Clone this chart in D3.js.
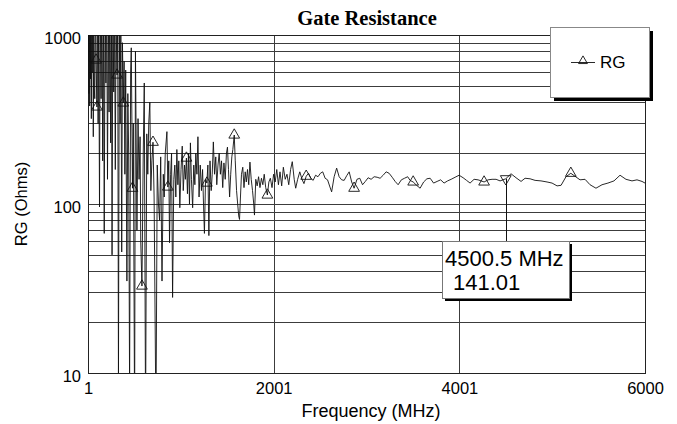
<!DOCTYPE html>
<meta charset="utf-8">
<script src="https://d3js.org/d3.v7.min.js"></script>
<style>
body { margin: 0; background: #fff; }
svg { display: block; }
.grid line { stroke: #3c3c3c; stroke-width: 1px; shape-rendering: crispEdges; }
.axis text { font-family: "Liberation Sans", Arial, sans-serif; font-size: 16.5px; fill: #000; }
.axis path, .axis line { display: none; }
.label { font-family: "Liberation Sans", Arial, sans-serif; font-size: 16px; fill: #000; }
.title { font-family: "Liberation Serif", "Times New Roman", serif; font-size: 20.5px; font-weight: bold; }
</style>
<body>
<script>

// measured sweep, frequency in MHz
var freqMHz = [1, 4, 7, 11, 15, 19, 24, 28, 32, 37, 42, 47, 53, 58, 63, 69, 74, 81, 88, 97,
  103, 110, 116, 125, 133, 142, 151, 159, 168, 176, 185, 194, 202, 211, 220, 228, 237, 245, 254, 260,
  269, 278, 286, 295, 303, 314, 321, 329, 338, 347, 355, 364, 372, 381, 390, 398, 407, 420, 430, 439,
  449, 460, 467, 480, 489, 503, 512, 528, 540, 551, 562, 569, 582, 596, 607, 621, 634, 645, 655, 667,
  678, 689, 701, 713, 733, 747, 760, 772, 784, 798, 812, 822, 833, 851, 861, 871, 879, 891, 901, 912,
  925, 936, 947, 958, 969, 979, 990, 1003, 1016, 1027, 1040, 1050, 1061, 1072, 1083, 1094, 1104, 1115, 1128, 1140,
  1152, 1162, 1174, 1185, 1197, 1210, 1223, 1235, 1245, 1255, 1267, 1281, 1292, 1303, 1315, 1328, 1339, 1351, 1364, 1377,
  1388, 1401, 1414, 1427, 1439, 1452, 1465, 1479, 1492, 1503, 1514, 1526, 1538, 1550, 1561, 1576, 1587, 1601, 1613, 1624,
  1633, 1643, 1654, 1668, 1681, 1694, 1706, 1719, 1732, 1745, 1759, 1773, 1786, 1794, 1808, 1823, 1838, 1853, 1869, 1884,
  1899, 1915, 1933, 1949, 1965, 1983, 2000, 2017, 2034, 2052, 2069, 2087, 2105, 2125, 2144, 2163, 2183, 2201, 2222, 2238,
  2259, 2282, 2306, 2327, 2351, 2376, 2400, 2426, 2452, 2478, 2504, 2529, 2555, 2581, 2607, 2625, 2652, 2679, 2706, 2733,
  2760, 2787, 2814, 2841, 2867, 2898, 2928, 2958, 2988, 3018, 3050, 3083, 3115, 3147, 3180, 3212, 3244, 3277, 3309, 3341,
  3376, 3410, 3444, 3470, 3503, 3540, 3578, 3616, 3651, 3686, 3723, 3761, 3799, 3836, 3874, 3912, 3955, 3998, 4041, 4078,
  4116, 4159, 4202, 4235, 4267, 4310, 4353, 4396, 4439, 4500.5, 4557, 4611, 4665, 4708, 4762, 4816, 4880, 4945, 4999, 5053,
  5096, 5149, 5201, 5246, 5300, 5354, 5408, 5472, 5537, 5601, 5666, 5731, 5795, 5860, 5914, 5968, 6000];

// gate resistance, ohms
var rgOhms = [700, 800, 1500, 450, 2000, 380, 1200, 550, 1800, 320, 1300, 600, 2500, 250, 1100, 480, 420, 1700, 711, 375,
  1900, 300, 1500, 96, 1700, 420, 2200, 180, 1400, 67, 1800, 520, 2000, 140, 1500, 350, 2400, 230, 1300, 50,
  1900, 460, 1600, 160, 1200, 580, 1300, 9, 1100, 300, 1500, 52, 900, 396, 700, 150, 620, 35, 450, 200,
  8, 600, 840, 124, 300, 5, 800, 70, 320, 140, 250, 60, 32.7, 200, 520, 5, 260, 150, 300, 400,
  120, 180, 232, 110, 5, 170, 100, 80, 190, 35, 150, 110, 200, 268, 126, 180, 59, 150, 200, 28,
  140, 170, 110, 210, 130, 180, 95, 160, 220, 120, 170, 140, 187, 115, 200, 100, 230, 140, 95, 170,
  130, 200, 150, 250, 110, 170, 120, 160, 100, 67, 140, 133, 170, 65, 180, 120, 150, 233, 150, 190,
  130, 170, 200, 150, 180, 125, 175, 140, 200, 217, 160, 110, 150, 190, 210, 256, 180, 120, 100, 85,
  81, 110, 150, 165, 125, 155, 135, 160, 130, 177, 140, 120, 100, 86, 140, 128, 145, 125, 142, 130,
  150, 125, 113, 135, 142, 125, 150, 135, 160, 130, 155, 128, 165, 140, 150, 130, 160, 178, 140, 124,
  140, 155, 140, 132, 146, 152, 142, 138, 148, 145, 152, 155, 142, 139, 126, 118, 145, 163, 145, 139,
  138, 147, 155, 135, 124, 140, 142, 130, 136, 143, 140, 145, 144, 142, 148, 155, 152, 144, 136, 130,
  139, 142, 145, 138, 135, 129, 124, 135, 141, 142, 133, 136, 139, 133, 137, 140, 144, 148, 143, 138,
  133, 140, 139, 137, 135, 139, 140, 140, 137, 141.01, 151, 143, 136, 142, 141, 138, 137, 135, 133, 128,
  129, 145, 152, 146, 139, 140, 130, 124, 130, 133, 137, 148, 140, 137, 139, 136, 133];

// frequencies carrying a triangle marker
var markerFreqs = [88, 97, 314, 381, 480, 582, 701, 861, 1061, 1281, 1576, 1933, 2351, 2867, 3503, 4267, 5201];

var cursorFreq = 4500.5;
var xTicks = [1, 2001, 4001, 6000];
var xGrid = [2001, 4001];
var yTicks = [10, 100, 1000];

var data = freqMHz.map(function(f, i) { return {f: f, v: rgOhms[i]}; });
var lookup = new Map(data.map(function(d) { return [d.f, d.v]; }));

var W = 677, H = 424;
var margin = {top: 35, right: 32, bottom: 51, left: 88};
var width = W - margin.left - margin.right,
    height = H - margin.top - margin.bottom;

var svg = d3.select("body").append("svg")
    .attr("width", W)
    .attr("height", H);

var g = svg.append("g")
    .attr("transform", "translate(" + margin.left + "," + margin.top + ")");

var x = d3.scaleLinear().domain([1, 6000]).range([0, width]);
var y = d3.scaleLog().domain([10, 1000]).range([height, 0]);

svg.append("defs").append("clipPath").attr("id", "plot")
  .append("rect").attr("width", width).attr("height", height);

// gridlines
var grid = g.append("g").attr("class", "grid");
grid.selectAll(".hg").data(y.ticks()).enter().append("line")
    .attr("x1", 0).attr("x2", width)
    .attr("y1", function(d) { return Math.round(y(d)) + 0.5; })
    .attr("y2", function(d) { return Math.round(y(d)) + 0.5; });
grid.selectAll(".vg").data(xGrid).enter().append("line")
    .attr("y1", 0).attr("y2", height)
    .attr("x1", function(d) { return Math.round(x(d)) + 0.5; })
    .attr("x2", function(d) { return Math.round(x(d)) + 0.5; });

g.append("rect")
    .attr("x", 0.5).attr("y", 0.5)
    .attr("width", width).attr("height", height)
    .attr("fill", "none").attr("stroke", "#222").attr("stroke-width", 1)
    .attr("shape-rendering", "crispEdges");

// axes
g.append("g").attr("class", "x axis")
    .attr("transform", "translate(0," + height + ")")
    .call(d3.axisBottom(x).tickValues(xTicks).tickSize(0).tickPadding(9).tickFormat(d3.format("d")));

g.append("g").attr("class", "y axis")
    .call(d3.axisLeft(y).tickValues(yTicks).tickSize(0).tickPadding(7).tickFormat(d3.format("d")))
  .selectAll("text").attr("dy", "0.5em");

// series
var plot = g.append("g").attr("clip-path", "url(#plot)");

plot.append("path")
    .datum(data)
    .attr("fill", "none")
    .attr("stroke", "#111")
    .attr("stroke-width", 0.9)
    .attr("d", d3.line().x(function(d) { return x(d.f); }).y(function(d) { return y(d.v); }));

var tri = d3.symbol().type(d3.symbolTriangle).size(50);

plot.selectAll(".mk").data(markerFreqs).enter().append("path")
    .attr("d", tri)
    .attr("fill", "none")
    .attr("stroke", "#111")
    .attr("stroke-width", 0.9)
    .attr("transform", function(f) { return "translate(" + x(f) + "," + y(lookup.get(f)) + ")"; });

// cursor readout
var cv = lookup.get(cursorFreq);
var cx = x(cursorFreq), cy = y(cv);
plot.append("path")
    .attr("d", tri)
    .attr("fill", "none").attr("stroke", "#111").attr("stroke-width", 0.9)
    .attr("transform", "translate(" + cx + "," + cy + ") rotate(180)");

var box = {x: 354, y: 206, w: 127, h: 57};
g.append("line")
    .attr("x1", Math.round(cx) + 0.5).attr("x2", Math.round(cx) + 0.5)
    .attr("y1", cy).attr("y2", box.y)
    .attr("stroke", "#111").attr("stroke-width", 1);
g.append("rect")
    .attr("x", box.x + 3).attr("y", box.y + 3).attr("width", box.w).attr("height", box.h)
    .attr("fill", "#000");
g.append("rect")
    .attr("x", box.x + 0.5).attr("y", box.y + 0.5).attr("width", box.w).attr("height", box.h)
    .attr("fill", "#fff").attr("stroke", "#777");
g.append("text").attr("class", "label")
    .attr("x", box.x + 3).attr("y", box.y + 25)
    .style("font-size", "22px")
    .text(cursorFreq + " MHz");
g.append("text").attr("class", "label")
    .attr("x", box.x + 11).attr("y", box.y + 49)
    .style("font-size", "22px")
    .text(d3.format(".2f")(cv));

// legend
var lg = {x: 550, y: 27, w: 99, h: 70};
svg.append("rect")
    .attr("x", lg.x + 4).attr("y", lg.y + 4).attr("width", lg.w).attr("height", lg.h)
    .attr("fill", "#000");
svg.append("rect")
    .attr("x", lg.x + 0.5).attr("y", lg.y + 0.5).attr("width", lg.w).attr("height", lg.h)
    .attr("fill", "#fff").attr("stroke", "#888");
svg.append("line")
    .attr("x1", 571).attr("x2", 595).attr("y1", 62.5).attr("y2", 62.5)
    .attr("stroke", "#111").attr("stroke-width", 0.9);
svg.append("path")
    .attr("d", d3.symbol().type(d3.symbolTriangle).size(34))
    .attr("fill", "none").attr("stroke", "#111").attr("stroke-width", 0.9)
    .attr("transform", "translate(583,61)");
svg.append("text").attr("class", "label")
    .attr("x", 600).attr("y", 68)
    .style("font-size", "17px")
    .text("RG");

// titles
svg.append("text").attr("class", "title")
    .attr("x", 367).attr("y", 25)
    .attr("text-anchor", "middle")
    .text("Gate Resistance");

svg.append("text").attr("class", "label")
    .attr("x", 371).attr("y", 417)
    .attr("text-anchor", "middle")
    .style("font-size", "18px")
    .text("Frequency (MHz)");

svg.append("text").attr("class", "label")
    .attr("transform", "translate(27," + (margin.top + 169) + ") rotate(-90)")
    .attr("text-anchor", "middle")
    .style("font-size", "16.5px")
    .text("RG (Ohms)");

</script>
</body>
